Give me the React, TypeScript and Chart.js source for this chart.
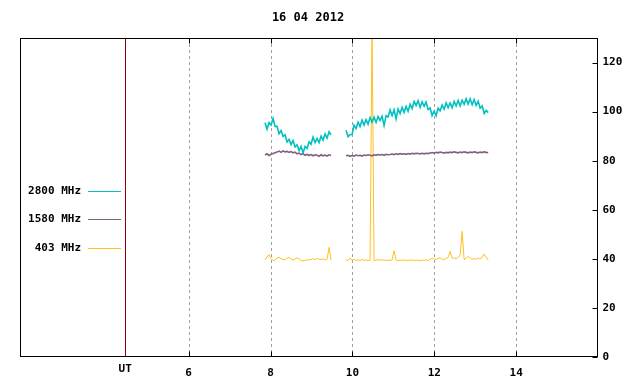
import React, { useEffect, useRef } from "react";
import { Chart, registerables } from "chart.js";

Chart.register(...registerables);

const TITLE = "16 04 2012";
const X_MIN = 1.88;
const X_MAX = 16.0;
const Y_MIN = 0;
const Y_MAX = 130;
const X_TICKS = [6, 8, 10, 12, 14];
const Y_TICKS = [0, 20, 40, 60, 80, 100, 120];
const UT_HOUR = 4.45;
const UT_LABEL = "UT";

const SEG1_START = 7.866;
const SEG2_START = 9.845;
const SAMPLE_STEP = 0.0489;

const LEGEND_LABELS = ["2800 MHz", "1580 MHz", "403 MHz"];
const COLORS = ["#00c0c0", "#7f6080", "#ffc020"];
const WIDTHS = [1.6, 1.6, 1];

// 2800 MHz
const f2800_a = [
  95.5, 92.8, 95.6, 94.5, 97.2, 94.0, 94.0, 91.0, 92.3, 89.9,
  90.6, 87.6, 88.7, 86.6, 88.2, 85.6, 86.5, 84.1, 85.8, 83.2,
  85.8, 85.0, 87.7, 86.7, 89.6, 87.4, 89.0, 87.4, 90.0, 88.4,
  90.9, 89.2, 91.8, 90.5,
];
const f2800_b = [
  92.4, 89.8, 90.6, 90.7, 94.5, 93.1, 95.7, 93.9, 96.5, 94.5,
  96.7, 94.9, 97.6, 95.7, 97.7, 95.6, 98.0, 96.4, 98.1, 94.3,
  98.4, 97.8, 100.7, 98.4, 100.7, 97.0, 101.0, 99.2, 101.7, 99.7,
  102.1, 100.1, 103.0, 101.2, 104.1, 102.5, 104.5, 101.7, 104.0, 102.2,
  103.9, 100.8, 101.5, 98.4, 100.2, 98.3, 101.4, 100.3, 102.7, 101.0,
  103.6, 101.6, 103.5, 101.6, 104.1, 102.3, 104.5, 102.3, 104.6, 103.0,
  105.2, 103.1, 105.2, 102.8, 104.9, 102.5, 104.2, 101.4, 102.3, 99.2,
  100.5, 99.6,
];

// 1580 MHz
const f1580_a = [
  82.3, 82.8, 82.1, 82.6, 82.9, 83.2, 83.5, 83.9, 83.4, 84.0,
  83.6, 83.8, 83.4, 83.7, 83.2, 83.5, 82.8, 83.1, 82.5, 82.9,
  82.2, 82.6, 82.1, 82.5, 82.0, 82.4, 82.2, 81.8, 82.4, 82.0,
  82.3, 81.9, 82.4, 82.1,
];
const f1580_b = [
  82.0, 82.2, 81.8, 82.1, 81.9, 82.3, 82.0, 82.2, 81.9, 82.3,
  82.1, 82.4, 82.2, 82.0, 82.4, 82.2, 82.5, 82.3, 82.5, 82.2,
  82.6, 82.4, 82.5, 82.7, 82.5, 82.8, 82.6, 82.9, 82.7, 82.8,
  82.6, 82.9, 82.7, 83.0, 82.8, 83.0, 82.9, 82.8, 83.0, 82.8,
  83.0, 82.9, 83.1, 83.3, 83.1, 83.4, 83.2, 83.5, 83.3, 83.1,
  83.4, 83.2, 83.5, 83.3, 83.6, 83.4, 83.2, 83.5, 83.3, 83.6,
  83.4, 83.2, 83.5, 83.3, 83.6, 83.4, 83.2, 83.5, 83.3, 83.6,
  83.4, 83.3,
];

// 403 MHz
const f403_a = [
  39.6, 40.8, 41.8, 40.2, 39.3, 39.5, 40.2, 40.7, 40.0, 39.8,
  39.5, 40.3, 40.6, 39.9, 39.5, 40.0, 40.4, 40.0, 39.3, 39.2,
  39.4, 39.6, 39.5, 39.8, 40.0, 39.7, 40.1, 39.9, 39.7, 40.0,
  39.6, 39.8, 44.7, 39.5,
];
const f403_b = [
  39.6, 39.3, 40.3, 39.5, 39.8, 39.4, 39.6, 39.3, 39.8, 39.4,
  39.5, 39.3, 39.4, 135, 39.2, 39.6, 39.5, 39.7, 39.4, 39.6,
  39.3, 39.5, 39.4, 39.6, 43.3, 39.5, 39.3, 39.5, 39.4, 39.6,
  39.3, 39.5, 39.4, 39.6, 39.3, 39.5, 39.4, 39.2, 39.5, 39.4,
  39.6, 39.3, 39.8, 40.3, 40.0, 39.6, 40.3, 40.4, 39.8, 39.6,
  40.2, 40.6, 43.0, 40.3, 40.4, 40.0, 40.8, 41.4, 51.2, 39.6,
  40.3, 41.0, 40.4, 39.8, 40.1, 39.8, 40.3, 40.0, 40.5, 42.0,
  40.6, 39.4,
];

function buildPoints(a: number[], b: number[]) {
  const pts: { x: number; y: number | null }[] = [];
  a.forEach((v, i) => pts.push({ x: SEG1_START + i * SAMPLE_STEP, y: v }));
  const endA = SEG1_START + (a.length - 1) * SAMPLE_STEP;
  pts.push({ x: (endA + SEG2_START) / 2, y: null });
  b.forEach((v, i) => pts.push({ x: SEG2_START + i * SAMPLE_STEP, y: v }));
  return pts;
}

const FONT = 'bold 11px "DejaVu Sans Mono", "Liberation Mono", monospace';
const TITLE_FONT = 'bold 12px "DejaVu Sans Mono", "Liberation Mono", monospace';

const overlay = {
  id: "overlay",
  beforeDatasetsDraw(chart: any) {
    const { ctx, chartArea: ca, scales } = chart;
    const xs = scales.x;
    ctx.save();
    ctx.lineWidth = 1;
    ctx.strokeStyle = "#a0a0a0";
    ctx.setLineDash([3, 3]);
    X_TICKS.forEach((t) => {
      const px = Math.round(xs.getPixelForValue(t)) + 0.5;
      ctx.beginPath();
      ctx.moveTo(px, ca.top);
      ctx.lineTo(px, ca.bottom);
      ctx.stroke();
    });
    ctx.setLineDash([]);
    const ux = Math.round(xs.getPixelForValue(UT_HOUR)) + 0.5;
    ctx.strokeStyle = "#8b0000";
    ctx.beginPath();
    ctx.moveTo(ux, ca.top);
    ctx.lineTo(ux, ca.bottom);
    ctx.stroke();
    ctx.restore();
  },
  afterDatasetsDraw(chart: any) {
    const { ctx, chartArea: ca, scales } = chart;
    const xs = scales.x;
    const ys = scales.y;
    ctx.save();
    ctx.lineWidth = 1;
    ctx.strokeStyle = "#000";
    const L = Math.round(ca.left) + 0.5;
    const R = Math.round(ca.right) - 0.5;
    const T = Math.round(ca.top) + 0.5;
    const B = Math.round(ca.bottom) - 0.5;
    ctx.strokeRect(L, T, R - L, B - T);
    X_TICKS.forEach((t) => {
      const px = Math.round(xs.getPixelForValue(t)) + 0.5;
      ctx.beginPath();
      ctx.moveTo(px, B);
      ctx.lineTo(px, B - 5);
      ctx.moveTo(px, T);
      ctx.lineTo(px, T + 5);
      ctx.stroke();
    });
    Y_TICKS.forEach((t) => {
      const py = Math.round(ys.getPixelForValue(t)) + 0.5;
      ctx.beginPath();
      ctx.moveTo(R, py);
      ctx.lineTo(R - 5, py);
      ctx.stroke();
    });
    ctx.fillStyle = "#000";
    ctx.font = FONT;
    ctx.textBaseline = "middle";
    ctx.textAlign = "left";
    Y_TICKS.forEach((t) => {
      const py = ys.getPixelForValue(t);
      ctx.fillText(String(t), R + 5, py);
    });
    ctx.textAlign = "center";
    X_TICKS.forEach((t) => {
      ctx.fillText(String(t), xs.getPixelForValue(t), B + 17);
    });
    ctx.fillText(UT_LABEL, xs.getPixelForValue(UT_HOUR), B + 13);
    ctx.font = TITLE_FONT;
    ctx.fillText(TITLE, (ca.left + ca.right) / 2 - 1, 18);
    ctx.font = FONT;
    ctx.textAlign = "right";
    const legendY = [191, 219, 248];
    LEGEND_LABELS.forEach((lab, i) => {
      ctx.fillStyle = "#000";
      ctx.fillText(lab, 81, legendY[i]);
      ctx.strokeStyle = COLORS[i];
      ctx.beginPath();
      ctx.moveTo(88, legendY[i] + 0.5);
      ctx.lineTo(121, legendY[i] + 0.5);
      ctx.stroke();
    });
    ctx.restore();
  },
};

export default function App() {
  const ref = useRef<HTMLCanvasElement>(null);
  useEffect(() => {
    document.body.style.margin = "0";
    const canvas = ref.current!;
    const chart = new Chart(canvas, {
      type: "line",
      data: {
        datasets: [
          { label: LEGEND_LABELS[0], data: buildPoints(f2800_a, f2800_b) as any, borderColor: COLORS[0], borderWidth: WIDTHS[0] },
          { label: LEGEND_LABELS[1], data: buildPoints(f1580_a, f1580_b) as any, borderColor: COLORS[1], borderWidth: WIDTHS[1] },
          { label: LEGEND_LABELS[2], data: buildPoints(f403_a, f403_b) as any, borderColor: COLORS[2], borderWidth: WIDTHS[2] },
        ].map((d) => ({
          ...d,
          pointRadius: 0,
          tension: 0,
          spanGaps: false,
          fill: false,
        })),
      },
      options: {
        animation: false,
        responsive: false,
        devicePixelRatio: 1,
        events: [],
        layout: { padding: { left: 20, right: 42, top: 38, bottom: 27 } },
        plugins: { legend: { display: false }, tooltip: { enabled: false }, title: { display: false } },
        scales: {
          x: { type: "linear", min: X_MIN, max: X_MAX, display: false },
          y: { type: "linear", min: Y_MIN, max: Y_MAX, display: false },
        },
      },
      plugins: [overlay],
    });
    return () => chart.destroy();
  }, []);
  return (
    <div style={{ width: 640, height: 384, background: "#fff" }}>
      <canvas ref={ref} width={640} height={384} style={{ display: "block" }} />
    </div>
  );
}
